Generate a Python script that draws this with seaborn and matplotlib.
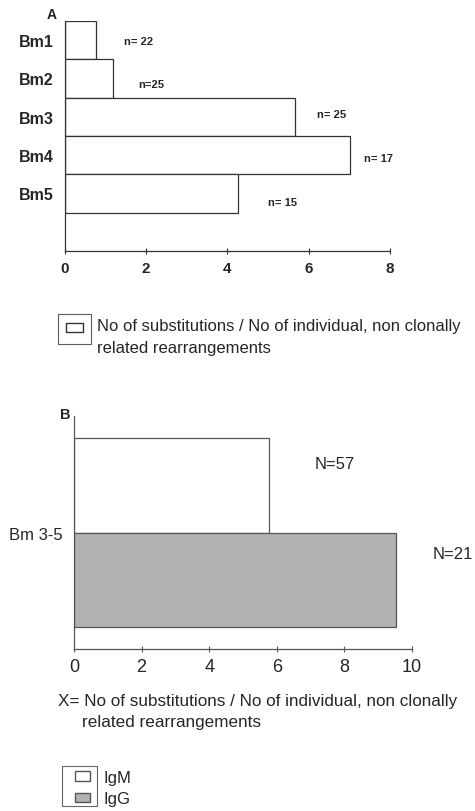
import matplotlib
matplotlib.use("Agg")
import matplotlib.pyplot as plt
import seaborn as sns
import pandas as pd
from matplotlib.patches import Patch, Rectangle

# panel A data
groups_a = ["Bm1", "Bm2", "Bm3", "Bm4", "Bm5"]
ratio_a = [0.76, 1.19, 5.66, 7.02, 4.25]
n_a = ["n= 22", "n=25", "n= 25", "n= 17", "n= 15"]
# label offsets (x in data units, relative to category)
n_a_x = [1.45, 1.8, 6.2, 7.35, 5.0]
n_a_dy = [0.03, 0.15, -0.07, 0.08, 0.23]
ticks_a = [0, 2, 4, 6, 8]

# panel B data
isotypes = ["IgM", "IgG"]
ratio_b = [5.77, 9.53]
n_b = ["N=57", "N=21"]
ticks_b = [0, 2, 4, 6, 8, 10]
colors_b = ["white", "#b2b2b2"]

sns.set_theme(style="white")
plt.rcParams["font.family"] = ["Liberation Sans", "DejaVu Sans"]

fig = plt.figure(figsize=(4.75, 8.12), dpi=100)

# ---- Panel A
ax1 = fig.add_axes([0.1368, 0.6897, 0.6842, 0.2833])
df_a = pd.DataFrame({"group": groups_a, "ratio": ratio_a})
sns.barplot(data=df_a, x="ratio", y="group", orient="h", width=1.0,
            color="white", edgecolor="#333333", linewidth=0.9, ax=ax1)
ax1.set_xlim(0, 8)
ax1.set_ylim(5.5, -0.5)
ax1.set_xticks(ticks_a)
ax1.set_xticklabels([str(t) for t in ticks_a], fontsize=11, fontweight="bold")
ax1.set_yticks(range(len(groups_a)))
ax1.set_yticklabels(groups_a, fontsize=11.5, fontweight="bold")
ax1.tick_params(axis="y", length=0, pad=8)
ax1.tick_params(axis="x", direction="inout", length=5, width=0.8, color="#333333", pad=5, bottom=True)
ax1.set_xlabel("")
ax1.set_ylabel("")
for s in ["top", "right"]:
    ax1.spines[s].set_visible(False)
for s in ["left", "bottom"]:
    ax1.spines[s].set_color("#333333")
    ax1.spines[s].set_linewidth(0.9)
for i, lab in enumerate(n_a):
    ax1.text(n_a_x[i], i + n_a_dy[i], lab, fontsize=8, fontweight="bold", va="center", ha="left")
ax1.text(-0.32, -0.68, "A", fontsize=10, fontweight="bold", ha="center", va="center")

# legend A
leg1 = fig.legend(handles=[Patch(facecolor="white", edgecolor="#333333")], labels=[""],
                  loc="center", bbox_to_anchor=(74.5 / 475, 1 - 330 / 812), bbox_transform=fig.transFigure,
                  frameon=True, handlelength=1.1, handleheight=0.6, handletextpad=0, borderpad=0.5,
                  fancybox=False, edgecolor="#333333")
leg1.get_frame().set_linewidth(0.8)
fig.text(97 / 475, 1 - 327 / 812, "No of substitutions / No of individual, non clonally",
         fontsize=12, va="center", ha="left")
fig.text(97 / 475, 1 - 349 / 812, "related rearrangements", fontsize=12, va="center", ha="left")

# ---- Panel B
ax2 = fig.add_axes([0.1558, 0.1995, 0.7116, 0.2869])
df_b = pd.DataFrame({"isotype": isotypes, "ratio": ratio_b})
sns.barplot(data=df_b, x="ratio", y="isotype", hue="isotype", palette=colors_b, orient="h",
            width=1.0, edgecolor="#555555", linewidth=0.9, legend=False, ax=ax2)
ax2.set_xlim(0, 10)
ax2.set_ylim(1.73, -0.73)
ax2.set_xticks(ticks_b)
ax2.set_xticklabels([str(t) for t in ticks_b], fontsize=13)
ax2.set_yticks([0.5])
ax2.set_yticklabels(["Bm 3-5"], fontsize=12)
ax2.tick_params(axis="y", length=0, pad=8)
ax2.tick_params(axis="x", direction="inout", length=5, width=0.8, color="#555555", pad=4, bottom=True)
ax2.set_xlabel("")
ax2.set_ylabel("")
for s in ["top", "right"]:
    ax2.spines[s].set_visible(False)
for s in ["left", "bottom"]:
    ax2.spines[s].set_color("#555555")
    ax2.spines[s].set_linewidth(0.9)
ax2.text(7.13, -0.225, n_b[0], fontsize=12, ha="left", va="center")
ax2.text(10.62, 0.72, n_b[1], fontsize=12, ha="left", va="center", clip_on=False)
ax2.text(-0.27, -0.75, "B", fontsize=10.5, fontweight="bold", ha="center", va="center")

fig.text(58 / 475, 1 - 702 / 812, "X= No of substitutions / No of individual, non clonally",
         fontsize=12.3, va="center", ha="left")
fig.text(82 / 475, 1 - 723 / 812, "related rearrangements", fontsize=12.3, va="center", ha="left")

# legend B
leg2 = fig.legend(handles=[Patch(facecolor=c, edgecolor="#555555") for c in colors_b],
                  labels=isotypes, loc="center left",
                  bbox_to_anchor=(62 / 475, 1 - 789 / 812), bbox_transform=fig.transFigure,
                  frameon=False, handlelength=0.85, handleheight=0.5, handletextpad=0.85,
                  labelspacing=0.4, borderpad=0.3, fontsize=12)
fig.patches.append(Rectangle((62 / 475, 1 - 807 / 812), 35 / 475, 40 / 812,
                             transform=fig.transFigure, fill=False, edgecolor="#666666", linewidth=0.8))

fig.savefig("out.png", dpi=100)
